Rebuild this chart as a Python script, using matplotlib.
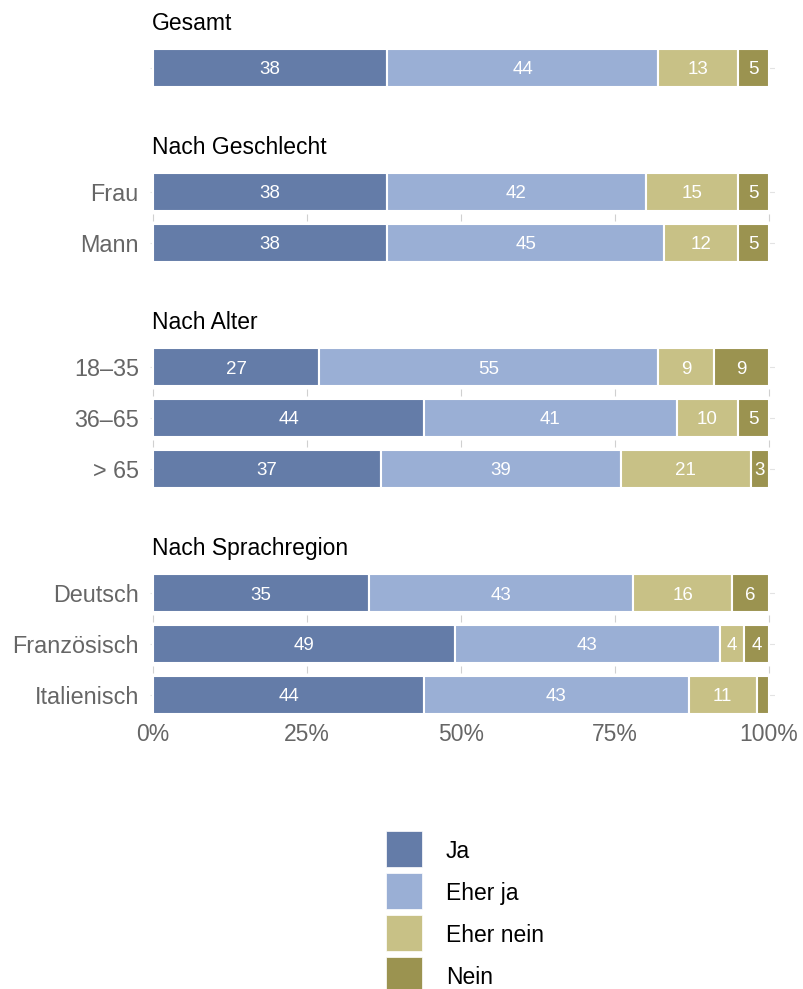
import matplotlib
matplotlib.use("Agg")
import matplotlib.pyplot as plt
from matplotlib.patches import Rectangle
import numpy as np

plt.rcParams['font.family'] = ['Liberation Sans', 'DejaVu Sans']

# ---- data ----
categories = ["Ja", "Eher ja", "Eher nein", "Nein"]
colors = ["#647ca8", "#9aafd5", "#c8c186", "#9b9350"]

panel_titles = ["Gesamt", "Nach Geschlecht", "Nach Alter", "Nach Sprachregion"]
panel_rows = [
    [""],
    ["Frau", "Mann"],
    ["18–35", "36–65", "> 65"],
    ["Deutsch", "Französisch", "Italienisch"],
]
ja        = [[38], [38, 38], [27, 44, 37], [35, 49, 44]]
eher_ja   = [[44], [42, 45], [55, 41, 39], [43, 43, 43]]
eher_nein = [[13], [15, 12], [9, 10, 21], [16, 4, 11]]
nein      = [[5],  [5, 5],   [9, 5, 3],   [6, 4, 2]]

xticks = [0, 25, 50, 75, 100]
xticklabels = ["0%", "25%", "50%", "75%", "100%"]

# ---- layout (pixels) ----
W, H = 804, 989
fig = plt.figure(figsize=(W / 100, H / 100), dpi=100)
px_x0, px_x100 = 153, 769
unit_x = (px_x100 - px_x0) / 100
xlim = (-0.5, 101.0)
ax_left = px_x0 + xlim[0] * unit_x
ax_right = px_x0 + xlim[1] * unit_x
first_centers = [68, 192, 367, 593]
row_step = 50.8
bar_h = 0.75

gray = "#666666"
grid_c = "#e3e3e3"

for p, title in enumerate(panel_titles):
    n = len(panel_rows[p])
    top = first_centers[p] - row_step / 2
    bottom = first_centers[p] + (n - 1) * row_step + row_step / 2
    ax = fig.add_axes([ax_left / W, 1 - bottom / H, (ax_right - ax_left) / W, (bottom - top) / H])
    ax.set_xlim(*xlim)
    ax.set_ylim(n - 0.5, -0.5)
    y = np.arange(n)
    # faint grid fragments
    ax.hlines(y, xlim[0], xlim[1], color=grid_c, lw=0.8, zorder=0)
    for i in range(n - 1):
        ax.vlines(xticks, i + 0.5 - 0.07, i + 0.5 + 0.07, color="#d0d0d0", lw=0.8, zorder=0)
    left = np.zeros(n)
    for vals, col in zip([ja[p], eher_ja[p], eher_nein[p], nein[p]], colors):
        vals = np.array(vals, dtype=float)
        ax.barh(y, vals, left=left, height=bar_h, color=col, edgecolor="white", linewidth=1.5, zorder=2)
        for yi, (l, v) in enumerate(zip(left, vals)):
            if v >= 3:
                ax.text(l + v / 2, yi, f"{int(v)}", ha="center", va="center_baseline", color="white",
                        fontsize=13.5, zorder=3)
        left += vals
    ax.set_yticks(y)
    ax.set_yticklabels(panel_rows[p], color=gray, fontsize=16.8)
    ax.tick_params(axis="y", length=0, pad=8)
    if p == len(panel_titles) - 1:
        ax.set_xticks(xticks)
        ax.set_xticklabels(xticklabels, color=gray, fontsize=16.5)
        ax.tick_params(axis="x", length=0, pad=2)
    else:
        ax.set_xticks([])
    for s in ax.spines.values():
        s.set_visible(False)
    fig.text(152 / W, 1 - (top - 12.5) / H, title, ha="left", va="baseline", fontsize=16.5, color="black")

# ---- legend (drawn in its own pixel-scaled axes) ----
lax = fig.add_axes([0, 0, 1, 1], zorder=5)
lax.set_xlim(0, W)
lax.set_ylim(H, 0)
lax.axis("off")
leg_x, leg_y0, leg_size, leg_step = 386, 831, 36, 42
for i, (lab, col) in enumerate(zip(categories, colors)):
    y0 = leg_y0 + i * leg_step
    lax.add_patch(Rectangle((leg_x, y0), leg_size, leg_size, facecolor=col, edgecolor="white", lw=0.5))
    lax.text(446, y0 + leg_size / 2, lab, ha="left", va="center_baseline", fontsize=16.5, color="black")

fig.savefig("out.png", dpi=100)
